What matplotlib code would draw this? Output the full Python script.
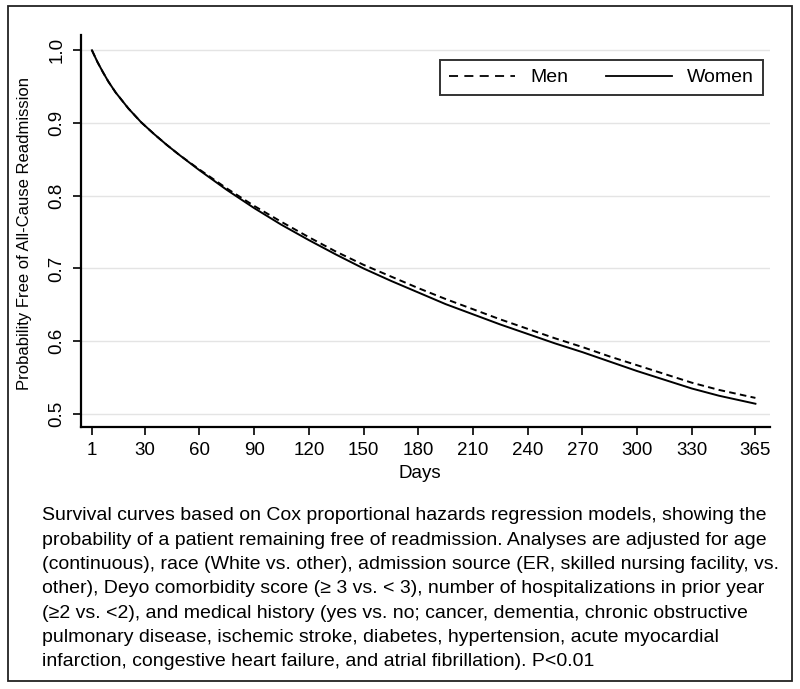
import matplotlib
matplotlib.use('Agg')
import matplotlib.pyplot as plt
from matplotlib.patches import Rectangle
from matplotlib.lines import Line2D

plt.rcParams['font.family'] = ['Liberation Sans', 'DejaVu Sans']

# values
days = [1, 4, 7, 10, 14, 21, 28, 35, 42, 49, 60, 75, 90, 105, 120, 135, 150,
        165, 180, 195, 210, 225, 240, 255, 270, 285, 300, 315, 330, 345, 365]
women = [1.000, 0.984, 0.970, 0.957, 0.942, 0.920, 0.901, 0.885, 0.870, 0.856,
         0.835, 0.808, 0.783, 0.760, 0.739, 0.719, 0.700, 0.683, 0.667, 0.651,
         0.637, 0.623, 0.610, 0.597, 0.585, 0.572, 0.559, 0.547, 0.535, 0.525, 0.514]
men = [1.000, 0.984, 0.970, 0.957, 0.942, 0.920, 0.901, 0.885, 0.870, 0.856,
       0.836, 0.810, 0.786, 0.764, 0.743, 0.723, 0.705, 0.689, 0.673, 0.658,
       0.644, 0.630, 0.617, 0.604, 0.592, 0.579, 0.567, 0.555, 0.543, 0.533, 0.522]

x_ticks = [1, 30, 60, 90, 120, 150, 180, 210, 240, 270, 300, 330, 365]
y_ticks = [0.5, 0.6, 0.7, 0.8, 0.9, 1.0]

caption = [
    "Survival curves based on Cox proportional hazards regression models, showing the",
    "probability of a patient remaining free of readmission. Analyses are adjusted for age",
    "(continuous), race (White vs. other), admission source (ER, skilled nursing facility, vs.",
    "other), Deyo comorbidity score (\u2265 3 vs. < 3), number of hospitalizations in prior year",
    "(\u22652 vs. <2), and medical history (yes vs. no; cancer, dementia, chronic obstructive",
    "pulmonary disease, ischemic stroke, diabetes, hypertension, acute myocardial",
    "infarction, congestive heart failure, and atrial fibrillation). P<0.01",
]

W, H = 800, 689
fig = plt.figure(figsize=(W / 100, H / 100), dpi=100)
ax = fig.add_axes([81 / W, 1 - 427 / H, (770 - 81) / W, (427 - 35) / H])

ax.plot(days, men, color='black', lw=1.4, ls=(0, (3.4, 2.2)))
ax.plot(days, women, color='black', lw=1.4)

ax.set_xlim(-5, 373)
ax.set_ylim(0.482, 1.021)
ax.set_xticks(x_ticks)
ax.set_yticks(y_ticks)
ax.set_yticklabels([f'{v:.1f}' for v in y_ticks], rotation=90, va='center')
ax.grid(axis='y', color='#e4e4e4', lw=1)
ax.set_axisbelow(True)
for s in ['top', 'right']:
    ax.spines[s].set_visible(False)
for s in ['left', 'bottom']:
    ax.spines[s].set_linewidth(1.6)
ax.tick_params(axis='both', length=6, width=1.2, labelsize=13.5)
ax.tick_params(axis='x', pad=5)
ax.tick_params(axis='y', pad=5)

ax.set_ylabel('Probability Free of All-Cause Readmission', fontsize=12)
ax.yaxis.set_label_coords(32 / W, 1 - 234 / H, transform=fig.transFigure)
fig.text(420 / W, 1 - 474 / H, 'Days', ha='center', va='center', fontsize=13.5)

handles = [Line2D([], [], color='black', lw=1.3, ls=(0, (5, 3.5))),
           Line2D([], [], color='black', lw=1.3)]
leg = ax.legend(handles, ['Men', 'Women'], ncol=2, loc='upper right',
                bbox_to_anchor=(763 / W, 1 - 60 / H),
                bbox_transform=fig.transFigure, borderaxespad=0, fontsize=14,
                frameon=True, fancybox=False, edgecolor='black',
                handlelength=3.4, handletextpad=0.8, columnspacing=1.9,
                borderpad=0.45)
leg.get_frame().set_linewidth(1.4)

for i, line in enumerate(caption):
    fig.text(42 / W, 1 - (516 + 24.3 * i) / H, line, ha='left', va='center',
             fontsize=14.0)

fig.add_artist(Rectangle((8 / W, 1 - 681 / H), 784 / W, 675 / H,
                         transform=fig.transFigure, fill=False,
                         edgecolor='#222222', lw=1.3))

fig.savefig('out.png', dpi=100)
